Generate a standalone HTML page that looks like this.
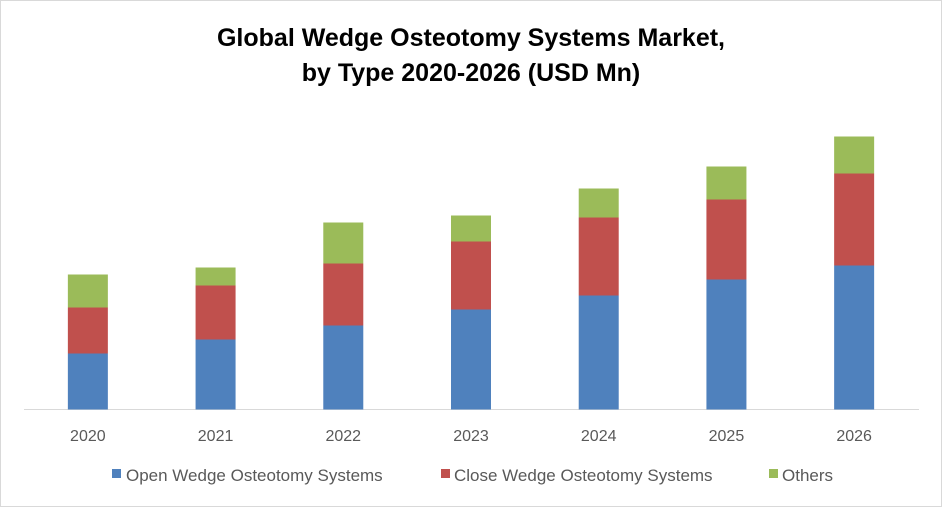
<!DOCTYPE html>
<html><head><meta charset="utf-8"><style>
body{margin:0;background:#fff;}
#c{position:relative;width:940px;height:505px;border:1px solid #d9d9d9;background:#fff;overflow:hidden;font-family:"Liberation Sans",sans-serif;}
</style></head><body>
<div id="c">
<svg id="s" width="940" height="505">
<text x="470" y="45" text-anchor="middle" font-size="25" font-weight="bold" fill="#000">Global Wedge Osteotomy Systems Market,</text>
<text x="470" y="80" text-anchor="middle" font-size="25" font-weight="bold" fill="#000">by Type 2020-2026 (USD Mn)</text>
<line x1="23" y1="408.5" x2="918" y2="408.5" stroke="#d9d9d9" stroke-width="1"/>
<g id="bars"></g>
<g>
<rect x="111" y="468" width="9" height="9" fill="#4f81bd"/>
<text x="125" y="480" font-size="17" fill="#595959">Open Wedge Osteotomy Systems</text>
<rect x="440" y="468" width="9" height="9" fill="#c0504d"/>
<text x="453" y="480" font-size="17" fill="#595959">Close Wedge Osteotomy Systems</text>
<rect x="768" y="468" width="9" height="9" fill="#9bbb59"/>
<text x="781" y="480" font-size="17" fill="#595959">Others</text>
</g>
</svg>
</div>
<script>
const categories=["2020","2021","2022","2023","2024","2025","2026"];
const openWedge=[56,70,84,100,114,130,144];
const closeWedge=[46,54,62,68,78,80,92];
const others=[33,18,41,26,29,33,37];
const NS="http://www.w3.org/2000/svg";
const g=document.getElementById('bars');
const base=408.5, plotL=24, plotR=918, barW=40;
const step=(plotR-plotL)/categories.length;
function xc(i){return plotL+step*(i+0.5)-1;}
function yh(v){return v*1.0;}
const series=[[openWedge,"#4f81bd","open"],[closeWedge,"#c0504d","close"],[others,"#9bbb59","others"]];
categories.forEach((c,i)=>{
  let y=base;
  series.forEach(([arr,col,nm])=>{
    const h=yh(arr[i]);
    const r=document.createElementNS(NS,'rect');
    r.setAttribute('x',xc(i)-barW/2);r.setAttribute('y',y-h);
    r.setAttribute('width',barW);r.setAttribute('height',h);r.setAttribute('fill',col);
    
    
    g.appendChild(r);y-=h;
  });
  const t=document.createElementNS(NS,'text');
  t.setAttribute('x',xc(i));t.setAttribute('y',440);t.setAttribute('text-anchor','middle');
  t.setAttribute('font-size','16');t.setAttribute('fill','#595959');t.textContent=c;
  
  
  g.appendChild(t);
});
</script>
</body></html>
